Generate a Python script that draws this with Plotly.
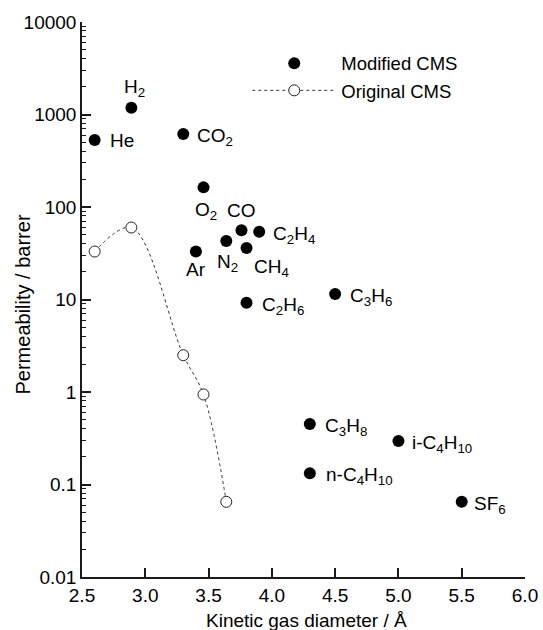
import numpy as np
import plotly.graph_objects as go

# Modified CMS data
mod_gases = ["He", "H<sub>2</sub>", "CO<sub>2</sub>", "O<sub>2</sub>", "CO", "C<sub>2</sub>H<sub>4</sub>",
             "N<sub>2</sub>", "CH<sub>4</sub>", "Ar", "C<sub>2</sub>H<sub>6</sub>", "C<sub>3</sub>H<sub>6</sub>",
             "C<sub>3</sub>H<sub>8</sub>", "i-C<sub>4</sub>H<sub>10</sub>", "n-C<sub>4</sub>H<sub>10</sub>", "SF<sub>6</sub>"]
mod_diam = [2.60, 2.89, 3.30, 3.46, 3.76, 3.90, 3.64, 3.80, 3.40, 3.80, 4.50, 4.30, 5.00, 4.30, 5.50]
mod_perm = [530, 1180, 617, 163, 56, 54, 43, 36, 33, 9.2, 11.5, 0.45, 0.296, 0.132, 0.065]

# Original CMS data
orig_diam = [2.60, 2.89, 3.30, 3.46, 3.64]
orig_perm = [33, 60, 2.5, 0.94, 0.065]

y_tickvals = [0.01, 0.1, 1, 10, 100, 1000, 10000]
y_ticktext = ["0.01", "0.1", "1", "10", "100", "1000", "10000"]

x_title = "Kinetic gas diameter / Å"
y_title = "Permeability / barrer"

FONT = "Arial, Liberation Sans, sans-serif"
AX = "#1a1a1a"
FS = 19

# label placement: (xanchor, yanchor, xshift, yshift)
place = {
    "He": ("left", "middle", 13, 0),
    "H<sub>2</sub>": ("center", "middle", 3, 20),
    "CO<sub>2</sub>": ("left", "middle", 12, -3),
    "O<sub>2</sub>": ("center", "middle", 2, -24),
    "CO": ("center", "middle", 0, 20),
    "C<sub>2</sub>H<sub>4</sub>": ("left", "middle", 12, -3),
    "N<sub>2</sub>": ("center", "middle", 1, -22),
    "CH<sub>4</sub>": ("left", "middle", 5, -20),
    "Ar": ("center", "middle", 0, -18),
    "C<sub>2</sub>H<sub>6</sub>": ("left", "middle", 13, -3),
    "C<sub>3</sub>H<sub>6</sub>": ("left", "middle", 13, -3),
    "C<sub>3</sub>H<sub>8</sub>": ("left", "middle", 13, -3),
    "i-C<sub>4</sub>H<sub>10</sub>": ("left", "middle", 12, -3),
    "n-C<sub>4</sub>H<sub>10</sub>": ("left", "middle", 14, -3),
    "SF<sub>6</sub>": ("left", "middle", 10, -3),
}

fig = go.Figure()
fig.add_trace(go.Scatter(
    x=mod_diam, y=mod_perm, mode="markers", name="Modified CMS",
    marker=dict(size=12, color="black", line=dict(width=0)),
))
fig.add_trace(go.Scatter(
    x=orig_diam, y=orig_perm, mode="lines+markers", name="Original CMS",
    line=dict(shape="spline", dash="dot", width=1, color="#333333"),
    marker=dict(size=11, color="white", line=dict(width=1, color="#222222")),
))

for g, x, y in zip(mod_gases, mod_diam, mod_perm):
    xa, ya, xs, ys = place[g]
    fig.add_annotation(x=x, y=float(np.log10(y)), xref="x", yref="y", text=g, showarrow=False,
                       xanchor=xa, yanchor=ya, xshift=xs, yshift=ys,
                       font=dict(family=FONT, size=FS, color="black"))

# axis titles as annotations for precise placement
fig.add_annotation(x=0.5, y=0, xref="paper", yref="paper", text=x_title, showarrow=False,
                   xanchor="center", yanchor="middle", xshift=3, yshift=-43,
                   font=dict(family=FONT, size=19, color="black"))
fig.add_annotation(x=0, y=0.5, xref="paper", yref="paper", text=y_title, showarrow=False,
                   textangle=-90, xanchor="center", yanchor="middle", xshift=-60, yshift=-5,
                   font=dict(family=FONT, size=20, color="black"))

fig.update_layout(
    width=543, height=630,
    margin=dict(l=82, r=18, t=22, b=53),
    paper_bgcolor="white", plot_bgcolor="white",
    font=dict(family=FONT, size=FS, color="black"),
    showlegend=True,
    legend=dict(x=0.373, y=0.959, xanchor="left", yanchor="top",
                bgcolor="rgba(0,0,0,0)", font=dict(size=18.5), itemwidth=84,
                tracegroupgap=0),
)
fig.update_xaxes(
    range=[2.5, 6.0], dtick=0.5, tickformat=".1f", automargin=False,
    showline=True, linecolor=AX, linewidth=1.5, mirror=False,
    ticks="inside", ticklen=9, tickwidth=1.5, tickcolor=AX,
    showgrid=False, zeroline=False,
    tickfont=dict(size=FS),
)
fig.update_yaxes(
    type="log", range=[-2, 4], tickvals=y_tickvals, ticktext=y_ticktext, automargin=False,
    showline=True, linecolor=AX, linewidth=1.5, mirror=False,
    ticks="inside", ticklen=9, tickwidth=1.5, tickcolor=AX,
    minor=dict(ticks="inside", ticklen=4, tickwidth=1, tickcolor=AX, dtick="D1", showgrid=False),
    showgrid=False, zeroline=False,
    tickfont=dict(size=FS),
)

fig.write_html("out.html", config={"displayModeBar": False},
               post_script="document.body.style.margin='0';document.body.style.overflow='hidden';")
